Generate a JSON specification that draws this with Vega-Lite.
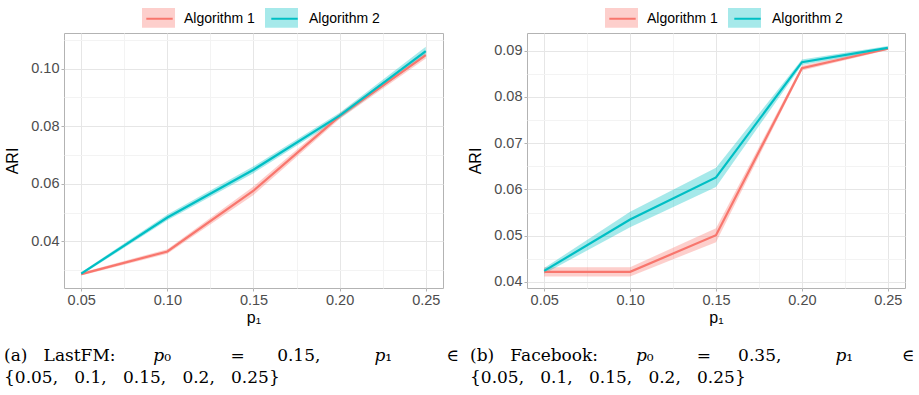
{
  "$schema": "https://vega.github.io/schema/vega-lite/v6.json",
  "padding": {"left": 3, "top": 0, "right": 0, "bottom": 0},
  "autosize": {"type": "pad"},
  "bounds": "flush",
  "spacing": 84,
  "config": {
    "view": {"stroke": "#B3B3B3", "strokeWidth": 1},
    "axis": {
      "domain": false,
      "labelFont": "Liberation Sans",
      "labelFontSize": 14.5,
      "labelColor": "#4D4D4D",
      "titleFont": "Liberation Sans",
      "titleFontSize": 16,
      "titleFontWeight": "normal",
      "titleColor": "#000000",
      "tickColor": "#B3B3B3",
      "tickSize": 3,
      "labelPadding": 2,
      "gridWidth": 1,
      "labelFlush": false,
      "labelOverlap": false
    },
    "legend": {
      "labelFont": "Liberation Sans",
      "labelFontSize": 14,
      "labelColor": "#000000"
    },
    "title": {
      "font": "DejaVu Serif",
      "fontSize": 17,
      "fontWeight": "normal",
      "color": "#000000"
    }
  },
  "datasets": {
    "lastfm": [
      {"p1": 0.05, "alg": "Algorithm 1", "ari": 0.0286, "lo": 0.0281, "hi": 0.0291},
      {"p1": 0.10, "alg": "Algorithm 1", "ari": 0.0365, "lo": 0.0357, "hi": 0.0373},
      {"p1": 0.15, "alg": "Algorithm 1", "ari": 0.0576, "lo": 0.0561, "hi": 0.0591},
      {"p1": 0.20, "alg": "Algorithm 1", "ari": 0.0835, "lo": 0.0825, "hi": 0.0845},
      {"p1": 0.25, "alg": "Algorithm 1", "ari": 0.1047, "lo": 0.1035, "hi": 0.1059},
      {"p1": 0.05, "alg": "Algorithm 2", "ari": 0.0288, "lo": 0.0283, "hi": 0.0293},
      {"p1": 0.10, "alg": "Algorithm 2", "ari": 0.0483, "lo": 0.0473, "hi": 0.0493},
      {"p1": 0.15, "alg": "Algorithm 2", "ari": 0.0649, "lo": 0.0637, "hi": 0.0661},
      {"p1": 0.20, "alg": "Algorithm 2", "ari": 0.0837, "lo": 0.0827, "hi": 0.0847},
      {"p1": 0.25, "alg": "Algorithm 2", "ari": 0.1061, "lo": 0.1046, "hi": 0.1076}
    ],
    "facebook": [
      {"p1": 0.05, "alg": "Algorithm 1", "ari": 0.0422, "lo": 0.0412, "hi": 0.0432},
      {"p1": 0.10, "alg": "Algorithm 1", "ari": 0.0422, "lo": 0.0412, "hi": 0.0432},
      {"p1": 0.15, "alg": "Algorithm 1", "ari": 0.0501, "lo": 0.0486, "hi": 0.0516},
      {"p1": 0.20, "alg": "Algorithm 1", "ari": 0.0862, "lo": 0.0857, "hi": 0.0867},
      {"p1": 0.25, "alg": "Algorithm 1", "ari": 0.0904, "lo": 0.0901, "hi": 0.0907},
      {"p1": 0.05, "alg": "Algorithm 2", "ari": 0.0424, "lo": 0.0418, "hi": 0.0430},
      {"p1": 0.10, "alg": "Algorithm 2", "ari": 0.0535, "lo": 0.0518, "hi": 0.0552},
      {"p1": 0.15, "alg": "Algorithm 2", "ari": 0.0626, "lo": 0.0605, "hi": 0.0647},
      {"p1": 0.20, "alg": "Algorithm 2", "ari": 0.0875, "lo": 0.0869, "hi": 0.0881},
      {"p1": 0.25, "alg": "Algorithm 2", "ari": 0.0906, "lo": 0.0902, "hi": 0.0910}
    ]
  },
  "resolve": {
    "scale": {"fill": "independent", "stroke": "independent", "x": "independent", "y": "independent"},
    "legend": {"fill": "independent", "stroke": "independent"}
  },
  "hconcat": [
    {
      "width": 379,
      "height": 255,
      "data": {"name": "lastfm"},
      "title": {
        "text": ["(a)\u00a0\u00a0\u00a0LastFM:\u00a0\u00a0\u00a0\u00a0\u00a0\u00a0\u00a0\ud835\udc5d\u2080\u00a0\u00a0\u00a0\u00a0\u00a0\u00a0\u00a0\u00a0\u00a0\u00a0\u00a0=\u00a0\u00a0\u00a0\u00a0\u00a0\u00a00.15,\u00a0\u00a0\u00a0\u00a0\u00a0\u00a0\u00a0\u00a0\u00a0\u00a0\ud835\udc5d\u2081\u00a0\u00a0\u00a0\u00a0\u00a0\u00a0\u00a0\u00a0\u00a0\u00a0\u2208", "{0.05,\u00a0\u00a0\u00a00.1,\u00a0\u00a0\u00a00.15,\u00a0\u00a0\u00a00.2,\u00a0\u00a0\u00a00.25}"],
        "orient": "bottom",
        "anchor": "start",
        "frame": "group",
        "align": "left",
        "dx": -60,
        "offset": 22,
        "lineHeight": 22
      },
      "layer": [
        {
          "mark": {"type": "area", "fillOpacity": 0.35},
          "encoding": {
            "x": {"field": "p1", "type": "quantitative", "scale": {"domain": [0.04, 0.26], "nice": false, "zero": false},
              "axis": {"title": "p\u2081", "titlePadding": 3, "tickCount": 40, "values": [0.05, 0.075, 0.1, 0.125, 0.15, 0.175, 0.2, 0.225, 0.25],
                "labelExpr": "indexof([0.05, 0.1, 0.15, 0.2, 0.25], datum.value) < 0 ? '' : format(datum.value, '.2f')",
                "gridColor": {"condition": {"test": "indexof([0.05, 0.1, 0.15, 0.2, 0.25], datum.value) < 0", "value": "#F3F3F3"}, "value": "#E6E6E6"},
                "tickOpacity": {"condition": {"test": "indexof([0.05, 0.1, 0.15, 0.2, 0.25], datum.value) < 0", "value": 0}, "value": 1}}},
            "y": {"field": "lo", "type": "quantitative", "scale": {"domain": [0.0238, 0.1124], "nice": false, "zero": false},
              "axis": {"title": "ARI", "titlePadding": 10, "tickCount": 40, "values": [0.03, 0.04, 0.05, 0.06, 0.07, 0.08, 0.09, 0.1, 0.11],
                "labelExpr": "indexof([0.04, 0.06, 0.08, 0.1], datum.value) < 0 ? '' : format(datum.value, '.2f')",
                "gridColor": {"condition": {"test": "indexof([0.04, 0.06, 0.08, 0.1], datum.value) < 0", "value": "#F3F3F3"}, "value": "#E6E6E6"},
                "tickOpacity": {"condition": {"test": "indexof([0.04, 0.06, 0.08, 0.1], datum.value) < 0", "value": 0}, "value": 1}}},
            "y2": {"field": "hi"},
            "fill": {"field": "alg", "type": "nominal", "scale": {"domain": ["Algorithm 1", "Algorithm 2"], "range": ["#F8766D", "#00BFC4"]},
              "legend": {"orient": "none", "legendX": 78, "legendY": -32, "title": null, "direction": "horizontal",
                "symbolType": "M-1,-0.6H1V0.6H-1Z", "symbolSize": 1089, "symbolOpacity": 0.35, "symbolStrokeWidth": 0,
                "labelExpr": "''", "labelOffset": 0, "columnPadding": 90}}
          }
        },
        {
          "mark": {"type": "line", "strokeWidth": 2.2},
          "encoding": {
            "x": {"field": "p1", "type": "quantitative", "scale": {"domain": [0.04, 0.26], "nice": false, "zero": false}},
            "y": {"field": "ari", "type": "quantitative", "scale": {"domain": [0.0238, 0.1124], "nice": false, "zero": false}},
            "stroke": {"field": "alg", "type": "nominal", "scale": {"range": ["#F8766D", "#00BFC4"]},
              "legend": {"orient": "none", "legendX": 78, "legendY": -32, "title": null, "direction": "horizontal",
                "symbolType": "M-0.8,0H0.8", "symbolSize": 1089, "symbolStrokeWidth": 2, "symbolFillColor": "transparent",
                "labelOffset": 7, "columnPadding": 12}}
          }
        }
      ]
    },
    {
      "width": 378,
      "height": 255,
      "data": {"name": "facebook"},
      "title": {
        "text": ["(b)\u00a0\u00a0\u00a0Facebook:\u00a0\u00a0\u00a0\u00a0\u00a0\u00a0\u00a0\ud835\udc5d\u2080\u00a0\u00a0\u00a0\u00a0\u00a0\u00a0\u00a0\u00a0=\u00a0\u00a0\u00a0\u00a0\u00a00.35,\u00a0\u00a0\u00a0\u00a0\u00a0\u00a0\u00a0\u00a0\u00a0\u00a0\ud835\udc5d\u2081\u00a0\u00a0\u00a0\u00a0\u00a0\u00a0\u00a0\u00a0\u00a0\u2208", "{0.05,\u00a0\u00a0\u00a00.1,\u00a0\u00a0\u00a00.15,\u00a0\u00a0\u00a00.2,\u00a0\u00a0\u00a00.25}"],
        "orient": "bottom",
        "anchor": "start",
        "frame": "group",
        "align": "left",
        "dx": -57,
        "offset": 22,
        "lineHeight": 22
      },
      "layer": [
        {
          "mark": {"type": "area", "fillOpacity": 0.35},
          "encoding": {
            "x": {"field": "p1", "type": "quantitative", "scale": {"domain": [0.04, 0.26], "nice": false, "zero": false},
              "axis": {"title": "p\u2081", "titlePadding": 3, "tickCount": 40, "values": [0.05, 0.075, 0.1, 0.125, 0.15, 0.175, 0.2, 0.225, 0.25],
                "labelExpr": "indexof([0.05, 0.1, 0.15, 0.2, 0.25], datum.value) < 0 ? '' : format(datum.value, '.2f')",
                "gridColor": {"condition": {"test": "indexof([0.05, 0.1, 0.15, 0.2, 0.25], datum.value) < 0", "value": "#F3F3F3"}, "value": "#E6E6E6"},
                "tickOpacity": {"condition": {"test": "indexof([0.05, 0.1, 0.15, 0.2, 0.25], datum.value) < 0", "value": 0}, "value": 1}}},
            "y": {"field": "lo", "type": "quantitative", "scale": {"domain": [0.0387, 0.0938], "nice": false, "zero": false},
              "axis": {"title": "ARI", "titlePadding": 10, "tickCount": 40, "values": [0.04, 0.045, 0.05, 0.055, 0.06, 0.065, 0.07, 0.075, 0.08, 0.085, 0.09],
                "labelExpr": "indexof([0.04, 0.05, 0.06, 0.07, 0.08, 0.09], datum.value) < 0 ? '' : format(datum.value, '.2f')",
                "gridColor": {"condition": {"test": "indexof([0.04, 0.05, 0.06, 0.07, 0.08, 0.09], datum.value) < 0", "value": "#F3F3F3"}, "value": "#E6E6E6"},
                "tickOpacity": {"condition": {"test": "indexof([0.04, 0.05, 0.06, 0.07, 0.08, 0.09], datum.value) < 0", "value": 0}, "value": 1}}},
            "y2": {"field": "hi"},
            "fill": {"field": "alg", "type": "nominal", "scale": {"domain": ["Algorithm 1", "Algorithm 2"], "range": ["#F8766D", "#00BFC4"]},
              "legend": {"orient": "none", "legendX": 78, "legendY": -32, "title": null, "direction": "horizontal",
                "symbolType": "M-1,-0.6H1V0.6H-1Z", "symbolSize": 1089, "symbolOpacity": 0.35, "symbolStrokeWidth": 0,
                "labelExpr": "''", "labelOffset": 0, "columnPadding": 90}}
          }
        },
        {
          "mark": {"type": "line", "strokeWidth": 2.2},
          "encoding": {
            "x": {"field": "p1", "type": "quantitative", "scale": {"domain": [0.04, 0.26], "nice": false, "zero": false}},
            "y": {"field": "ari", "type": "quantitative", "scale": {"domain": [0.0387, 0.0938], "nice": false, "zero": false}},
            "stroke": {"field": "alg", "type": "nominal", "scale": {"range": ["#F8766D", "#00BFC4"]},
              "legend": {"orient": "none", "legendX": 78, "legendY": -32, "title": null, "direction": "horizontal",
                "symbolType": "M-0.8,0H0.8", "symbolSize": 1089, "symbolStrokeWidth": 2, "symbolFillColor": "transparent",
                "labelOffset": 7, "columnPadding": 12}}
          }
        }
      ]
    }
  ]
}
